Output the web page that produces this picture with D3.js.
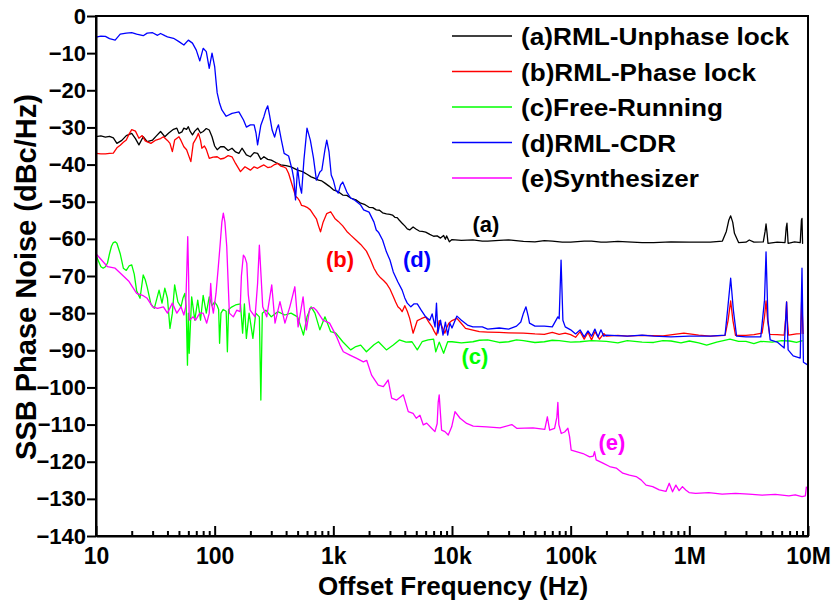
<!DOCTYPE html>
<html lang="en">
<head>
<meta charset="UTF-8">
<title>SSB Phase Noise</title>
<script src="https://d3js.org/d3.v7.min.js"></script>
<style>
  body { margin: 0; background: #fff; }
  svg text { font-family: "Liberation Sans", Arial, sans-serif; font-weight: bold; fill: #000; }
  .axis path, .axis line { stroke: #000; stroke-width: 2; }
</style>
</head>
<body>
<div id="chart"></div>
<script>
// ---- data (offset frequency in Hz, phase noise in dBc/Hz) ----
const seriesNames = ["(a)RML-Unphase lock", "(b)RML-Phase lock", "(c)Free-Running", "(d)RML-CDR", "(e)Synthesizer"];
const curveTags = ["(a)", "(b)", "(c)", "(d)", "(e)"];

const unphaseLock = [
  [10,-32.5],[11,-32.3],[12,-32.6],[13,-32.4],[14,-32.8],[15,-34.3],[16.5,-33.5],[18,-32.2],[20,-31.6],[21.5,-33],
  [23,-34.7],[25,-32.5],[27,-33.8],[30,-33.4],[32,-32.4],[35,-31.1],[38,-32.5],[41,-31.5],[45,-30.5],[48,-30.2],
  [50,-31.6],[53,-31.2],[55,-30.2],[58,-30.5],[60,-29.8],[62,-31],[65,-32],[68,-31],[72,-30.2],[76,-31.5],
  [80,-31.1],[85,-30.3],[90,-30.7],[95,-32.5],[100,-35],[105,-36],[112,-35.2],[120,-35.2],[130,-36.2],[140,-35.6],
  [150,-36.6],[160,-37],[170,-35.6],[185,-37.4],[200,-37.9],[215,-36.8],[230,-37],[245,-38.6],[260,-37.9],[280,-38.6],
  [300,-38.8],[330,-39.5],[360,-40.1],[400,-40.3],[440,-40.6],[500,-41.5],[550,-41.9],[600,-42.6],[650,-43.3],[700,-43.7],
  [750,-44.2],[800,-44.4],[850,-45],[920,-45.8],[1000,-46.8],[1100,-47.3],[1200,-48.2],[1300,-48.3],[1400,-49],[1550,-49.5],
  [1700,-50.4],[1850,-50.8],[2000,-51.5],[2150,-51.6],[2300,-52.2],[2450,-52.3],[2600,-53],[2800,-53.3],[3000,-53.4],[3150,-53.6],
  [3300,-54.2],[3450,-54.3],[3600,-55],[3800,-55.8],[4000,-56.5],[4200,-57.3],[4400,-57.6],[4700,-56.8],[5000,-57.4],[5300,-57.9],
  [5600,-58],[6000,-58.2],[6500,-58.8],[7000,-59.3],[7500,-59.2],[8000,-59.8],[8500,-59.1],[8800,-60.1],[9000,-59.2],[9500,-60.8],
  [10000,-60.2],[12000,-60.4],[15000,-60.3],[18000,-60.6],[20000,-60.6],[25000,-60.4],[30000,-60.3],[40000,-60.7],[50000,-60.8],[60000,-60.5],
  [70000,-60.6],[85000,-60.9],[100000,-60.9],[130000,-60.6],[150000,-60.6],[180000,-60.9],[200000,-60.9],[250000,-60.7],[300000,-60.8],[400000,-61],
  [500000,-61],[700000,-60.8],[1e6,-60.9],[1.5e6,-60.9],[1.9e6,-60.6],[2.05e6,-58],[2.15e6,-55],[2.23e6,-53.8],[2.32e6,-55.5],[2.4e6,-58.5],
  [2.6e6,-61],[3e6,-60.9],[3.2e6,-60.3],[3.5e6,-60.9],[4.2e6,-60.8],[4.35e6,-58],[4.43e6,-56],[4.52e6,-58.5],[4.6e6,-61.2],[5.5e6,-60.9],
  [6.4e6,-61],[6.55e6,-57],[6.65e6,-55.8],[6.8e6,-61.2],[7.7e6,-60.8],[8.6e6,-61],[8.8e6,-55],[8.9e6,-54.5],[9e6,-61.2],[9.1e6,-61.2]
];

const phaseLock = [
  [10,-37],[11,-37.1],[12,-37.1],[13,-37],[14,-36.9],[15,-35.5],[16,-34.8],[17,-34],[18,-33.4],[19,-31.8],
  [20,-30.6],[21.5,-31],[23,-32.9],[24.5,-32.2],[26,-33.6],[29,-34.3],[32,-33.4],[35,-33],[37,-32.5],[40,-33.5],
  [42,-34.3],[44,-36.5],[46,-33.4],[50,-32.5],[52,-33.5],[55,-35.2],[58,-36],[63,-39.2],[66,-34.3],[70,-32.9],
  [73,-31.6],[76,-33.5],[78,-35.6],[82,-35],[85,-35.9],[90,-38.3],[97,-38],[105,-37.9],[112,-38.5],[120,-38.3],
  [130,-37.6],[140,-37.9],[150,-39.7],[165,-41.9],[180,-40.6],[200,-41.5],[215,-40.6],[230,-41],[245,-40.5],[260,-40.1],
  [280,-40.8],[300,-40.6],[320,-40],[340,-39.7],[360,-40.4],[380,-40.6],[400,-41],[420,-42.4],[440,-44.5],[460,-46.5],
  [480,-48.5],[500,-49],[520,-49.8],[540,-51],[570,-51.2],[600,-51.5],[640,-52.2],[680,-53.5],[720,-54.6],[750,-56.5],
  [780,-58.1],[820,-55.5],[880,-53.2],[950,-52.7],[1030,-54.5],[1100,-55.3],[1200,-56.5],[1300,-58],[1400,-59],[1550,-60.3],
  [1700,-61.5],[1900,-63.3],[2050,-65.5],[2200,-67.9],[2350,-69.5],[2500,-70.5],[2650,-71.2],[2800,-72],[3000,-73.5],[3200,-75.5],
  [3350,-77],[3500,-78.3],[3650,-78.8],[3800,-79.6],[4000,-78],[4200,-79.5],[4400,-81.4],[4700,-85.4],[5100,-82],[5500,-81.5],
  [6000,-81],[6400,-82.5],[6800,-83.7],[7100,-85],[7400,-85.9],[7800,-82],[8200,-83.5],[8700,-85.4],[9000,-84],[9400,-82.7],
  [10000,-82],[11000,-81.4],[12000,-82.8],[13000,-84.1],[15000,-84.6],[17000,-85],[20000,-85.1],[25000,-85.2],[30000,-85.3],[40000,-85.4],
  [50000,-85.6],[60000,-85.7],[70000,-85.2],[80000,-85.7],[90000,-85.4],[100000,-85.8],[110000,-86.5],[120000,-85],[130000,-87],[140000,-85.2],
  [150000,-87.2],[160000,-85],[175000,-87],[190000,-85.5],[200000,-86.2],[250000,-86],[300000,-86.2],[400000,-86],[600000,-86.1],[900000,-85.4],
  [1.2e6,-85.9],[1.5e6,-86.2],[2e6,-86],[2.12e6,-82],[2.23e6,-76.7],[2.33e6,-82],[2.45e6,-86],[3e6,-86],[3.5e6,-85.8],[4.1e6,-85.4],
  [4.3e6,-81],[4.43e6,-76.7],[4.57e6,-82],[4.75e6,-85.7],[5.5e6,-85.8],[6.3e6,-85.9],[6.5e6,-81],[6.6e6,-77],[6.7e6,-82],[6.85e6,-85.9],
  [8e6,-85.6],[8.7e6,-85.5],[8.85e6,-76],[8.95e6,-80],[9.1e6,-85.6]
];

const freeRunning = [
  [10,-64.4],[10.5,-66],[11,-67.5],[11.5,-67.9],[12,-67.5],[12.5,-66.5],[13,-64],[13.5,-62],[14,-61],[14.5,-60.8],
  [15,-61.2],[16,-64],[17,-67.9],[18,-68.5],[19,-67.3],[20,-67],[21,-69.5],[22,-74],[23.5,-76],[25,-69.7],
  [26,-71],[27,-73],[29,-77.5],[31,-78.7],[34,-73.8],[36,-77.3],[38,-73.3],[40,-76],[42,-84.1],[44,-80],
  [46,-72.4],[49,-77],[52,-78.3],[54,-76],[56,-74.7],[57.5,-78],[59,-94],[60,-80],[61,-90.8],[64,-75.6],
  [68,-81.9],[72,-76.5],[76,-81.9],[80,-75.2],[85,-80],[90,-75.6],[95,-78],[100,-77],[105,-78],[108,-79],
  [110,-88.1],[113,-80],[118,-79],[125,-79.5],[128,-90.4],[131,-79],[140,-78.3],[150,-77.8],[165,-77.5],[172,-85.4],
  [178,-77.5],[185,-86.8],[195,-80],[210,-86.8],[222,-80],[238,-81],[245,-103.4],[252,-80],[270,-79.2],[300,-81],
  [340,-79.6],[390,-80.5],[440,-80],[500,-81],[530,-83.5],[560,-85.9],[600,-81],[650,-78.3],[700,-80],[770,-84.5],
  [850,-81],[950,-85],[1050,-85.4],[1200,-87.7],[1400,-89.9],[1550,-89],[1700,-88.6],[1900,-90.4],[2200,-88.5],[2400,-87.7],
  [2800,-89.9],[3200,-88.6],[3600,-87.2],[4100,-87.8],[4600,-87.7],[5100,-89.9],[5600,-87.7],[6300,-87.2],[7000,-87],[7300,-90.4],
  [7800,-87.8],[8500,-90.8],[9200,-87.7],[10000,-87.7],[12000,-88],[15000,-87.7],[17000,-87.3],[20000,-87.2],[25000,-87.9],[30000,-87.7],
  [35000,-87.2],[40000,-87.4],[50000,-87.9],[60000,-87.7],[70000,-87.3],[80000,-87.4],[100000,-87.8],[120000,-87.7],[150000,-87.4],[200000,-87.6],
  [250000,-88],[300000,-87.4],[400000,-87.8],[500000,-87.9],[600000,-87.4],[700000,-87.5],[850000,-88],[1e6,-87.5],[1.2e6,-88],[1.4e6,-88.6],
  [1.7e6,-87.8],[2.2e6,-87],[2.6e6,-87.6],[3e6,-87.6],[3.5e6,-88.2],[4e6,-87.6],[5e6,-87.8],[6e6,-87.4],[7e6,-87.5],[8e6,-87.9],[9e6,-87.4]
];

const rmlCdr = [
  [10,-5.7],[11,-5.4],[12,-5.5],[13,-6.1],[14.5,-6.5],[16,-4.9],[18,-4.6],[20,-4.5],[22,-4.9],[25,-5.3],
  [27,-4.6],[30,-4.5],[33,-5.2],[35,-4.7],[38,-5.3],[40,-5.6],[45,-6],[50,-6.9],[55,-7.8],[60,-6.5],
  [65,-7.3],[70,-9.2],[75,-12.1],[80,-8.7],[85,-9.6],[90,-14.1],[95,-10],[100,-13.6],[103,-18],[105,-20.7],
  [110,-23.5],[115,-25.3],[125,-27],[140,-26.2],[160,-25.8],[175,-28],[185,-29.9],[200,-29.3],[215,-29.3],[223,-31.5],
  [230,-34.7],[245,-29.4],[260,-27.1],[270,-25.3],[280,-24.2],[290,-26.7],[305,-30.7],[320,-32.6],[335,-30.2],[345,-29.3],
  [365,-33.4],[385,-37],[420,-37.7],[450,-41.5],[465,-44],[480,-49.5],[500,-40.9],[520,-45.5],[540,-47.7],[565,-38.8],
  [600,-30.2],[640,-33.4],[680,-38.2],[720,-44.2],[770,-42],[800,-41.5],[850,-36],[880,-33.4],[920,-36.6],[960,-42.8],
  [1000,-44.2],[1050,-46.9],[1100,-47.7],[1150,-45.5],[1200,-44.7],[1300,-47.4],[1400,-49],[1500,-49.5],[1700,-50.9],[1800,-52.2],
  [2000,-52.8],[2200,-55.5],[2300,-57.6],[2400,-58.2],[2600,-60.3],[2800,-63.5],[3000,-65.7],[3200,-68.9],[3500,-71.6],[3800,-73.8],
  [4000,-75.9],[4200,-77.3],[4500,-78.3],[4800,-77.5],[5100,-77.5],[5500,-79.2],[6000,-81],[6500,-81.9],[6800,-80.2],[7200,-83.7],
  [7400,-77.3],[7600,-85.4],[8000,-81.9],[8400,-85.9],[8800,-82.4],[9200,-85.9],[9600,-82.7],[10000,-84],[11000,-80.8],[12000,-81.9],
  [13500,-83.2],[15000,-83.7],[18000,-83.7],[20000,-84.3],[25000,-84],[30000,-84.3],[35000,-83.5],[38000,-82.4],[40000,-80],[42000,-78.3],
  [44000,-81],[45000,-82.7],[50000,-83.5],[60000,-83.5],[70000,-83.7],[78000,-81],[80000,-81.5],[83000,-65.7],[86000,-81.9],[90000,-83.7],
  [100000,-84.5],[110000,-85.6],[120000,-84.5],[130000,-86.4],[140000,-84.8],[150000,-86.2],[160000,-84.3],[170000,-86.4],[180000,-84.5],[190000,-86.2],
  [200000,-85.9],[300000,-86.2],[400000,-85.9],[500000,-86.2],[700000,-86.4],[1e6,-86.2],[1.5e6,-86.2],[2e6,-85.9],[2.1e6,-79.2],[2.23e6,-70.6],
  [2.35e6,-79.2],[2.5e6,-86.2],[3e6,-86.4],[4e6,-86.4],[4.3e6,-76.5],[4.43e6,-63.5],[4.6e6,-81.9],[4.8e6,-87.2],[5.5e6,-87.8],[6.3e6,-89.4],
  [6.6e6,-77],[6.8e6,-89.9],[7.5e6,-91.5],[8.6e6,-92.1],[8.9e6,-67.9],[9.15e6,-93.2],[1e7,-94]
];

const synthesizer = [
  [10,-64],[11,-65.5],[12.5,-67.5],[14.5,-67.9],[17,-70],[19,-71.5],[22,-74.7],[25,-75.3],[27,-76],[30,-78.3],
  [33,-78.7],[37,-78.3],[40,-80],[44,-77.3],[48,-80],[52,-78.3],[55,-80.5],[57,-78.3],[58.3,-68],[59.3,-59.4],
  [60.3,-70],[61,-81.9],[66,-81],[69,-81.9],[75,-80],[80,-80],[85.7,-82.7],[90,-80],[92.6,-72],[95,-78],
  [97.5,-80],[102.6,-74.7],[107,-68],[110.9,-62],[115,-55.5],[118.3,-53.1],[122,-55.5],[126.4,-62],[130,-72],[133,-80],
  [143.6,-81],[153.4,-79.2],[163.7,-79.6],[168,-70],[174.5,-64.4],[180,-65],[186.5,-66.6],[192,-75],[199,-79.2],[219,-81],
  [230,-72],[238,-61.7],[246,-70],[254,-78.3],[274.6,-81],[302.6,-72.4],[322.6,-82.7],[355,-76.9],[391,-82.7],[430,-78.3],
  [474,-72.9],[505,-83.7],[556,-75.6],[593,-84.5],[632,-78.7],[680,-78.5],[719,-79.2],[817,-81.9],[930,-82.7],[1068,-86.4],
  [1138,-88.6],[1214,-90.4],[1380,-91.3],[1575,-92.2],[1790,-93.1],[1910,-92.7],[2100,-96.7],[2390,-99.4],[2640,-99.8],[2900,-98],
  [3100,-102.9],[3420,-103.4],[3890,-102],[4280,-106.5],[4700,-107],[5000,-108.3],[5370,-107.5],[5730,-110.1],[6120,-109.6],[6730,-111],
  [7180,-111.9],[7500,-109.7],[7650,-104],[7800,-102],[7950,-106],[8170,-111.5],[8720,-111.9],[9300,-112.8],[9940,-110.6],[10600,-106.5],
  [11700,-108.3],[13300,-109.7],[15100,-110.4],[19600,-110.6],[25400,-110.9],[31900,-110],[35100,-111],[48200,-110.9],[60500,-111.3],[63600,-107.9],
  [66500,-111.5],[73200,-111],[76500,-108],[78000,-104],[79500,-110],[83300,-112.4],[88900,-112],[94800,-111],[98000,-113.3],[101000,-116.9],
  [111600,-117.3],[127000,-117.8],[144500,-118.7],[155000,-118.5],[159000,-117.3],[164000,-119.5],[187000,-120.4],[213000,-121.3],[242000,-121.7],[275000,-123.1],
  [313000,-123.6],[356000,-124],[392000,-124.9],[432000,-126.3],[491000,-126.7],[558000,-127.6],[635000,-128],[677000,-125.8],[722000,-128.1],[770000,-126.3],
  [820000,-127.8],[875000,-126.7],[933000,-127.6],[995000,-128.3],[1.13e6,-128.5],[1.46e6,-128.3],[1.89e6,-128.7],[2.45e6,-128.5],[3.17e6,-128.7],[4.1e6,-129],
  [5.3e6,-128.8],[6.9e6,-129.2],[7.8e6,-128.9],[8.9e6,-129.4],[9.5e6,-129.2],[9.7e6,-126.7]
];

const xTicks = [10, 100, 1e3, 1e4, 1e5, 1e6, 1e7];
const xTickLabels = ["10", "100", "1k", "10k", "100k", "1M", "10M"];
const yTicks = [0, -10, -20, -30, -40, -50, -60, -70, -80, -90, -100, -110, -120, -130, -140];

// ---- styling ----
const colors = ["#000000", "#ff0000", "#00ff00", "#0000ff", "#ff00ff"];
const allSeries = [unphaseLock, phaseLock, freeRunning, rmlCdr, synthesizer];

const W = 833, H = 607;
const plot = {left: 96, right: 808, top: 16, bottom: 536};

const svg = d3.select("#chart").append("svg")
  .attr("width", W).attr("height", H);

const x = d3.scaleLog().domain([10, 1e7]).range([plot.left, plot.right]);
const y = d3.scaleLinear().domain([-140, 0]).range([plot.bottom, plot.top]);

svg.append("clipPath").attr("id", "plotclip")
  .append("rect")
  .attr("x", plot.left).attr("y", plot.top)
  .attr("width", plot.right - plot.left).attr("height", plot.bottom - plot.top);

// curves
const line = d3.line().x(d => x(d[0])).y(d => y(d[1]));
svg.append("g").attr("clip-path", "url(#plotclip)")
  .selectAll("path")
  .data(allSeries)
  .join("path")
  .attr("d", line)
  .attr("fill", "none")
  .attr("stroke", (d, i) => colors[i])
  .attr("stroke-width", 1.3)
  .attr("stroke-linejoin", "round");

// y axis (ticks outward)
const yAxis = svg.append("g")
  .attr("class", "axis")
  .attr("transform", `translate(${plot.left},0)`)
  .call(d3.axisLeft(y).tickValues(yTicks).tickSize(9).tickPadding(1).tickSizeOuter(0));
yAxis.selectAll("text").style("font-size", "22px");

// x axis minor ticks (inward)
const minor = [];
for (let dec = 10; dec < 1e7; dec *= 10) {
  for (let k = 2; k <= 9; k++) minor.push(dec * k);
}
const xMinor = svg.append("g")
  .attr("class", "axis")
  .attr("transform", `translate(0,${plot.bottom})`)
  .call(d3.axisBottom(x).tickValues(minor).tickSize(-5).tickFormat("").tickSizeOuter(0));
xMinor.select(".domain").remove();

// x axis major ticks (inward)
const xAxis = svg.append("g")
  .attr("class", "axis")
  .attr("transform", `translate(0,${plot.bottom})`)
  .call(d3.axisBottom(x).tickValues(xTicks).tickSize(-10).tickPadding(12).tickSizeOuter(0)
    .tickFormat((d, i) => xTickLabels[i]));
xAxis.selectAll("text").style("font-size", "23px");

// frame
svg.append("rect")
  .attr("x", plot.left).attr("y", plot.top)
  .attr("width", plot.right - plot.left).attr("height", plot.bottom - plot.top)
  .attr("fill", "none").attr("stroke", "#000").attr("stroke-width", 2);

// axis titles
svg.append("text")
  .attr("transform", "translate(36,277) rotate(-90)")
  .attr("text-anchor", "middle")
  .style("font-size", "29px")
  .text("SSB Phase Noise (dBc/Hz)");

svg.append("text")
  .attr("x", 453).attr("y", 595)
  .attr("text-anchor", "middle")
  .style("font-size", "26px")
  .text("Offset Frequency (Hz)");

// legend
const legendWidths = [268, 235, 202, 155, 178];
const legend = svg.append("g").attr("transform", "translate(452,36)");
const rows = legend.selectAll("g")
  .data(seriesNames)
  .join("g")
  .attr("transform", (d, i) => `translate(0,${i * 35.5})`);
rows.append("line")
  .attr("x1", 0).attr("x2", 60).attr("y1", 0).attr("y2", 0)
  .attr("stroke", (d, i) => colors[i]).attr("stroke-width", 1.3);
rows.append("text")
  .attr("x", 69).attr("y", 9)
  .style("font-size", "24px")
  .attr("textLength", (d, i) => legendWidths[i])
  .attr("lengthAdjust", "spacingAndGlyphs")
  .text(d => d);

// curve tags
const tagPos = [[486, 232], [340, 267], [475, 364], [417, 267], [612, 450]];
svg.append("g")
  .selectAll("text")
  .data(curveTags)
  .join("text")
  .attr("x", (d, i) => tagPos[i][0])
  .attr("y", (d, i) => tagPos[i][1])
  .attr("text-anchor", "middle")
  .style("font-size", "22px")
  .style("fill", (d, i) => colors[i])
  .text(d => d);
</script>
</body>
</html>
